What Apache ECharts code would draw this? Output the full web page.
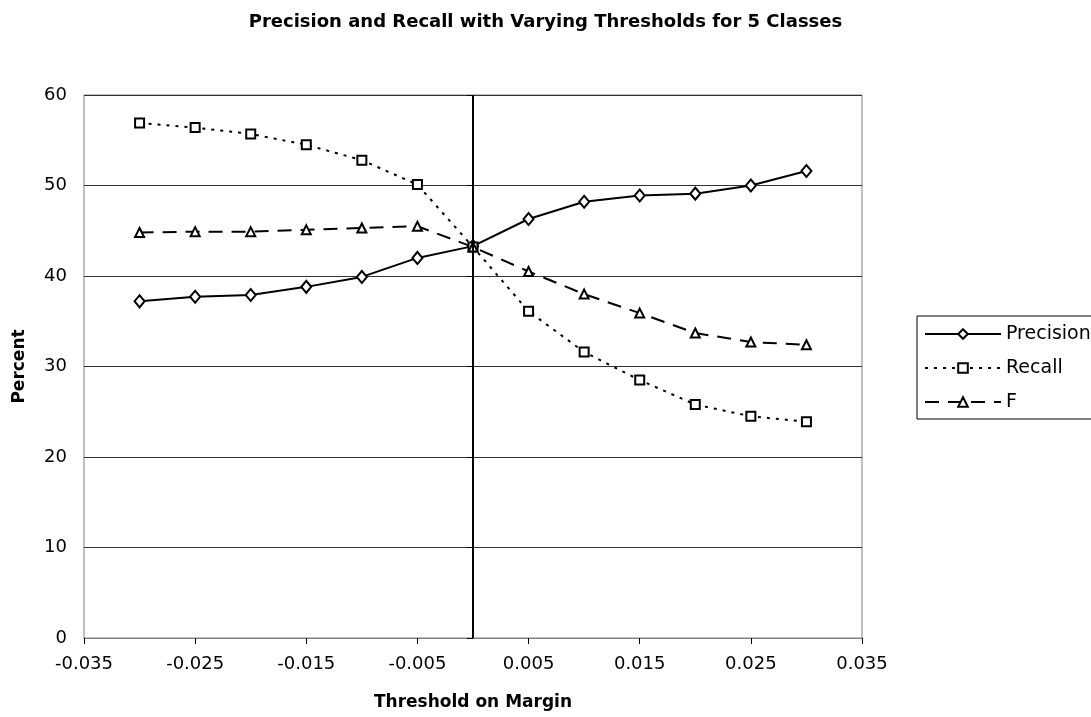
<!DOCTYPE html>
<html><head><meta charset="utf-8">
<script src="https://cdn.jsdelivr.net/npm/echarts@6/dist/echarts.min.js"></script>
<style>html,body{margin:0;padding:0;background:#fff}#c{width:1091px;height:717px}</style>
</head><body><div id="c"></div>
<script>
const thresholds = [-0.03,-0.025,-0.02,-0.015,-0.01,-0.005,0,0.005,0.01,0.015,0.02,0.025,0.03];
const precision = [37.2,37.7,37.9,38.8,39.9,42.0,43.3,46.3,48.2,48.9,49.1,50.0,51.6];
const recall = [56.9,56.4,55.7,54.5,52.8,50.1,43.2,36.1,31.6,28.5,25.8,24.5,23.9];
const fscore = [44.8,44.9,44.9,45.1,45.3,45.5,43.2,40.5,38.0,35.9,33.7,32.7,32.4];
const xTicks = {min:-0.035, max:0.035, interval:0.01};
const yTicks = {min:0, max:60, interval:10};

const pairs = arr => thresholds.map((t,i)=>[t,arr[i]]);
const font = '"DejaVu Sans", Arial, sans-serif';
const chart = echarts.init(document.getElementById('c'), null, {renderer:'canvas'});
const common = {
  type:'line', symbolSize:8, showAllSymbol:true,
  itemStyle:{color:'#fff', borderColor:'#000', borderWidth:2},
  emphasis:{disabled:true}, animation:false
};
chart.setOption({
  animation:false,
  backgroundColor:'#fff',
  title:{text:'Precision and Recall with Varying Thresholds for 5 Classes', left:'center', top:8,
    textStyle:{fontFamily:font, fontWeight:'bold', fontSize:18, color:'#000'}},
  grid:{left:84, right:229, top:95, bottom:79, show:true, borderColor:'#808080', borderWidth:1,
    containLabel:false, outerBoundsMode:'none'},
  legend:{left:917, top:316, orient:'vertical', itemWidth:76, itemHeight:12, itemGap:14,
    padding:[8,10,7,7], borderColor:'#000', borderWidth:1,
    textStyle:{fontFamily:font, fontSize:19, color:'#000', lineHeight:20},
    data:['Precision','Recall','F']},
  xAxis:{type:'value', min:xTicks.min, max:xTicks.max, interval:xTicks.interval,
    name:'Threshold on Margin', nameLocation:'middle', nameGap:56,
    nameTextStyle:{fontFamily:font, fontWeight:'bold', fontSize:17, color:'#000'},
    axisLine:{show:true, onZero:false, lineStyle:{color:'#808080', width:1}},
    axisTick:{show:true, length:6, lineStyle:{color:'#000'}},
    axisLabel:{fontFamily:font, fontSize:18, color:'#000', margin:17, formatter:v=>v.toFixed(3)},
    splitLine:{show:false}},
  yAxis:{type:'value', min:yTicks.min, max:yTicks.max, interval:yTicks.interval,
    name:'Percent', nameLocation:'middle', nameGap:56, nameRotate:90,
    nameTextStyle:{fontFamily:font, fontWeight:'bold', fontSize:17, color:'#000'},
    axisLine:{show:true, lineStyle:{color:'#808080', width:1}},
    axisTick:{show:true, length:6, lineStyle:{color:'#000'}},
    axisLabel:{fontFamily:font, fontSize:18, color:'#000', margin:17},
    splitLine:{show:true, lineStyle:{color:'#333', width:1}}},
  series:[
    Object.assign({}, common, {name:'Precision', symbol:'diamond', symbolSize:[10,12], data:pairs(precision),
      lineStyle:{color:'#000', width:2, type:'solid'},
      markLine:{silent:true, symbol:'none', label:{show:false}, animation:false,
        lineStyle:{color:'#000', width:2, type:'solid'}, data:[{xAxis:0}]}}),
    Object.assign({}, common, {name:'Recall', symbol:'rect', symbolSize:9, data:pairs(recall),
      lineStyle:{color:'#000', width:2, type:[3,6]}}),
    Object.assign({}, common, {name:'F', symbol:'triangle', symbolSize:9, data:pairs(fscore),
      lineStyle:{color:'#000', width:2, type:[14,9]}})
  ]
});
</script></body></html>
